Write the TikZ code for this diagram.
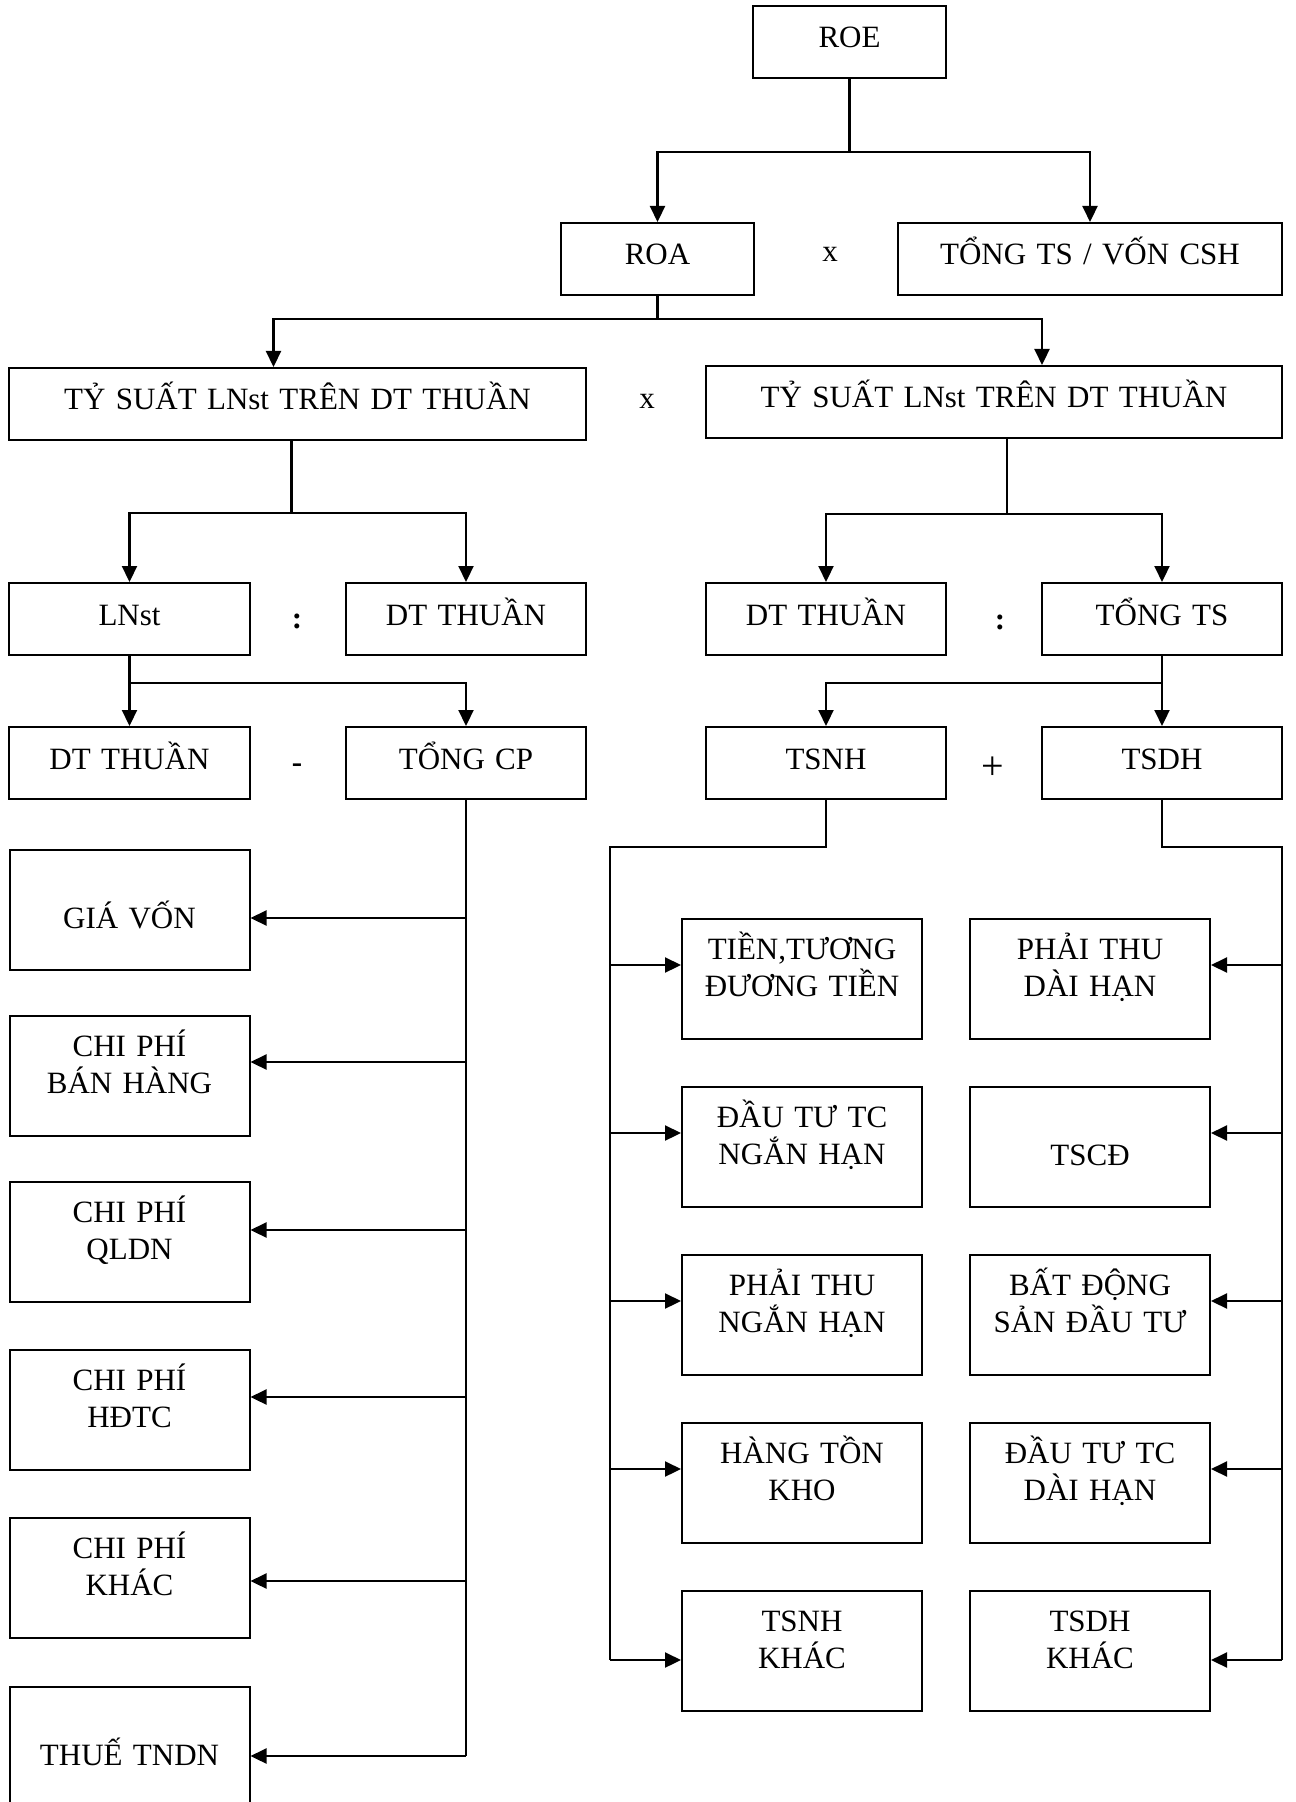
\documentclass[tikz,border=0pt]{standalone}
\usepackage{fontspec}
\setmainfont{Liberation Serif}
\usetikzlibrary{arrows.meta}

\begin{document}
\begin{tikzpicture}[x=0.5pt,y=-0.5pt,>={Triangle[length=8pt,width=7.5pt]},
  cell/.style={draw=black,line width=1pt,inner sep=0pt,align=center,font=\fontsize{15.5}{18.5}\selectfont},
  flatbox/.style={cell,text width=#1,text height=21pt,text depth=15pt},
  tallbox/.style={cell,text width=120pt,text height=20pt,text depth=40pt},
  tallbox1/.style={cell,text width=120pt,text height=39pt,text depth=21pt},
  op/.style={inner sep=0pt,font=\fontsize{15.5}{18.5}\selectfont},
  link/.style={line width=1.1pt}]
\useasboundingbox (0,0) rectangle (1295,1802);
% Level 1
\node (roe) [flatbox=96.5pt] at (849.5,42) {ROE};
% Level 2
\node (roa) [flatbox=96.5pt] at (657.5,259) {ROA};
\node (ts) [flatbox=192pt] at (1090,259) {TỔNG TS / VỐN CSH};
\node (op1) [op] at (830,254) {x};
% Level 3
\node (ysl) [flatbox=288.5pt] at (297.5,404) {TỶ SUẤT LNst TRÊN DT THUẦN};
\node (ysr) [flatbox=288pt] at (994,402) {TỶ SUẤT LNst TRÊN DT THUẦN};
\node (op2) [op] at (647,401) {x};
% Level 4
\node (ln) [flatbox=120.5pt] at (129.5,619) {LNst};
\node (dtl) [flatbox=120pt] at (466,619) {DT THUẦN};
\node (dtr) [flatbox=120pt] at (826,619) {DT THUẦN};
\node (tts) [flatbox=120pt] at (1162,619) {TỔNG TS};
\node (op3) [op] at (297,621) {\textbf{:}};
\node (op4) [op] at (1000,622) {\textbf{:}};
% Level 5
\node (dt) [flatbox=120.5pt] at (129.5,763) {DT THUẦN};
\node (cp) [flatbox=120pt] at (466,763) {TỔNG CP};
\node (nh) [flatbox=120pt] at (826,763) {TSNH};
\node (dh) [flatbox=120pt] at (1162,763) {TSDH};
\node (op5) [op] at (297,768) {\textbf{-}};
\node (op6) [op,font=\fontsize{20}{20}\selectfont] at (993,768) {+};
% Costs
\node (gv) [tallbox1] at (129.5,910) {GIÁ VỐN};
\node (bh) [tallbox] at (129.5,1076) {CHI PHÍ\\BÁN HÀNG};
\node (ql) [tallbox] at (129.5,1242) {CHI PHÍ\\QLDN};
\node (tc) [tallbox] at (129.5,1410) {CHI PHÍ\\HĐTC};
\node (ck) [tallbox] at (129.5,1578) {CHI PHÍ\\KHÁC};
\node (th) [tallbox1] at (129.5,1747) {THUẾ TNDN};
% Short term assets
\node (t1) [tallbox] at (802,979) {TIỀN,TƯƠNG\\ĐƯƠNG TIỀN};
\node (t2) [tallbox] at (802,1147) {ĐẦU TƯ TC\\NGẮN HẠN};
\node (t3) [tallbox] at (802,1315) {PHẢI THU\\NGẮN HẠN};
\node (t4) [tallbox] at (802,1483) {HÀNG TỒN\\KHO};
\node (t5) [tallbox] at (802,1651) {TSNH\\KHÁC};
% Long term assets
\node (d1) [tallbox] at (1090,979) {PHẢI THU\\DÀI HẠN};
\node (d2) [tallbox1] at (1090,1147) {TSCĐ};
\node (d3) [tallbox] at (1090,1315) {BẤT ĐỘNG\\SẢN ĐẦU TƯ};
\node (d4) [tallbox] at (1090,1483) {ĐẦU TƯ TC\\DÀI HẠN};
\node (d5) [tallbox] at (1090,1651) {TSDH\\KHÁC};
% Arrow ends
\coordinate (gv-in) at ([yshift=-34.5pt]gv.north east);
\coordinate (bh-in) at ([yshift=-23.5pt]bh.north east);
\coordinate (ql-in) at ([yshift=-24.5pt]ql.north east);
\coordinate (tc-in) at ([yshift=-24pt]tc.north east);
\coordinate (ck-in) at ([yshift=-32pt]ck.north east);
\coordinate (th-in) at ([yshift=-35pt]th.north east);
\coordinate (t1-in) at ([yshift=-23.5pt]t1.north west);
\coordinate (t2-in) at ([yshift=-23.5pt]t2.north west);
\coordinate (t3-in) at ([yshift=-23.5pt]t3.north west);
\coordinate (t4-in) at ([yshift=-23.5pt]t4.north west);
\coordinate (t5-in) at ([yshift=-35pt]t5.north west);
\coordinate (d1-in) at ([yshift=-23.5pt]d1.north east);
\coordinate (d2-in) at ([yshift=-23.5pt]d2.north east);
\coordinate (d3-in) at ([yshift=-23.5pt]d3.north east);
\coordinate (d4-in) at ([yshift=-23.5pt]d4.north east);
\coordinate (d5-in) at ([yshift=-35pt]d5.north east);
\coordinate (lbus) at (610,847);
\coordinate (rbus) at (1282,847);
% ROE split
\draw[link] (roe.south) -- ++(0,73) coordinate (j1);
\draw[link,->] (j1) -| (roa.north);
\draw[link,->] (j1) -| (ts.north);
% ROA split
\draw[link] (roa.south) -- ++(0,23) coordinate (j2);
\draw[link,->] (j2) -| ([xshift=-12pt]ysl.north);
\draw[link,->] (j2) -| ([xshift=24pt]ysr.north);
% Margin split
\draw[link] ([xshift=-3pt]ysl.south) -- ++(0,72) coordinate (j3);
\draw[link,->] (j3) -| (ln.north);
\draw[link,->] (j3) -| (dtl.north);
% Turnover split
\draw[link] ([xshift=6.5pt]ysr.south) -- ++(0,75) coordinate (j4);
\draw[link,->] (j4) -| (dtr.north);
\draw[link,->] (j4) -| (tts.north);
% Profit split
\draw[link] (ln.south) -- ++(0,27) coordinate (j5);
\draw[link,->] (j5) -| (dt.north);
\draw[link,->] (j5) -| (cp.north);
% Assets split
\draw[link] (tts.south) -- ++(0,27) coordinate (j6);
\draw[link,->] (j6) -| (nh.north);
\draw[link,->] (j6) -| (dh.north);
% Costs arrows
\draw[link] (cp.south) -- (cp.south |- th-in);
\draw[link,->] (cp.south |- gv-in) -- (gv-in);
\draw[link,->] (cp.south |- bh-in) -- (bh-in);
\draw[link,->] (cp.south |- ql-in) -- (ql-in);
\draw[link,->] (cp.south |- tc-in) -- (tc-in);
\draw[link,->] (cp.south |- ck-in) -- (ck-in);
\draw[link,->] (cp.south |- th-in) -- (th-in);
% Short term arrows
\draw[link] (nh.south) |- (lbus) -- (lbus |- t5-in);
\draw[link,->] (lbus |- t1-in) -- (t1-in);
\draw[link,->] (lbus |- t2-in) -- (t2-in);
\draw[link,->] (lbus |- t3-in) -- (t3-in);
\draw[link,->] (lbus |- t4-in) -- (t4-in);
\draw[link,->] (lbus |- t5-in) -- (t5-in);
% Long term arrows
\draw[link] (dh.south) |- (rbus) -- (rbus |- d5-in);
\draw[link,->] (rbus |- d1-in) -- (d1-in);
\draw[link,->] (rbus |- d2-in) -- (d2-in);
\draw[link,->] (rbus |- d3-in) -- (d3-in);
\draw[link,->] (rbus |- d4-in) -- (d4-in);
\draw[link,->] (rbus |- d5-in) -- (d5-in);
\end{tikzpicture}
\end{document}
